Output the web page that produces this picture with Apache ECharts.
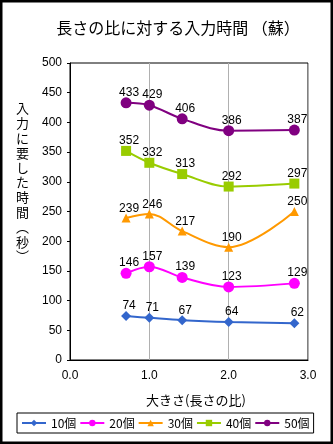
<!DOCTYPE html>
<html><head><meta charset="utf-8">
<script src="https://cdn.jsdelivr.net/npm/echarts@6/dist/echarts.min.js"></script>
<style>html,body{margin:0;padding:0;background:#fff}#c{width:333px;height:444px}</style>
</head><body><div id="c"></div>
<script>
const xValues = [0.707, 1.0, 1.414, 2.0, 2.828];
const seriesNames = ['10個', '20個', '30個', '40個', '50個'];
const s10 = [74, 71, 67, 64, 62];
const s20 = [146, 157, 139, 123, 129];
const s30 = [239, 246, 217, 190, 250];
const s40 = [352, 332, 313, 292, 297];
const s50 = [433, 429, 406, 386, 387];
const yTicks = [0, 50, 100, 150, 200, 250, 300, 350, 400, 450, 500];
const xTicks = [0.0, 1.0, 2.0, 3.0];

const allValues = [s10, s20, s30, s40, s50];
const colors = ['#3366CC', '#FF00FF', '#FF9900', '#99CC00', '#800080'];
const symbols = ['diamond', 'circle', 'triangle', 'rect', 'circle'];
const symSizes = [10, 11, 9, 10, 11];
const jp = '"Noto Sans CJK JP", sans-serif';
const num = '"Liberation Sans", Arial, sans-serif';

const chart = echarts.init(document.getElementById('c'), null, {renderer: 'canvas'});
chart.setOption({
  animation: false,
  backgroundColor: '#fff',
  title: {
    text: '長さの比に対する入力時間 （蘇）',
    left: 173, top: 15, textAlign: 'center',
    textStyle: {fontFamily: jp, fontSize: 16, fontWeight: 'normal', color: '#000'}
  },
  graphic: [
    {type: 'rect', shape: {x: 1, y: 1, width: 331, height: 442}, style: {fill: 'none', stroke: '#000', lineWidth: 3}, z: 100},
    {type: 'text', left: 16, top: 101, style: {text: '入\n力\nに\n要\nし\nた\n時\n間\n︵\n秒\n︶', font: '13px ' + jp, fill: '#000', lineHeight: 14.8}}
  ],
  grid: {left: 70, right: 25, top: 63, bottom: 84, show: true, borderColor: '#000', borderWidth: 1},
  legend: {
    data: seriesNames,
    left: 17, top: 413,
    padding: [4, 4, 4, 4],
    itemGap: 3, itemWidth: 24, itemHeight: 8,
    borderColor: '#000', borderWidth: 1,
    textStyle: {fontFamily: jp, fontSize: 12, color: '#000'}
  },
  xAxis: {
    type: 'value', min: 0, max: 3, interval: 1,
    name: '大きさ(長さの比)', nameLocation: 'middle', nameGap: 34,
    nameTextStyle: {fontFamily: jp, fontSize: 13, color: '#000', padding: [0, 0, 0, 14]},
    axisLine: {show: true, lineStyle: {color: '#000'}},
    axisTick: {show: false},
    axisLabel: {color: '#000', fontFamily: num, fontSize: 12, margin: 10, formatter: v => (xTicks.includes(v) ? v.toFixed(1) : '')},
    splitLine: {show: true, lineStyle: {color: '#b0b0b0', width: 1}}
  },
  yAxis: {
    type: 'value', min: yTicks[0], max: yTicks[yTicks.length - 1], interval: 50,
    axisLine: {show: true, lineStyle: {color: '#000'}},
    axisTick: {show: true, length: 3, lineStyle: {color: '#000'}},
    axisLabel: {color: '#000', fontFamily: num, fontSize: 12, margin: 8},
    splitLine: {show: false}
  },
  series: allValues.map((vals, i) => ({
    name: seriesNames[i],
    type: 'line',
    smooth: 0.35,
    data: vals.map((v, j) => [xValues[j], v]),
    symbol: symbols[i],
    symbolSize: symSizes[i],
    lineStyle: {color: colors[i], width: 2},
    itemStyle: {color: colors[i]},
    label: {show: true, position: 'top', distance: 2, offset: [3, 3], color: '#000', fontFamily: num, fontSize: 12}
  }))
});
</script></body></html>
